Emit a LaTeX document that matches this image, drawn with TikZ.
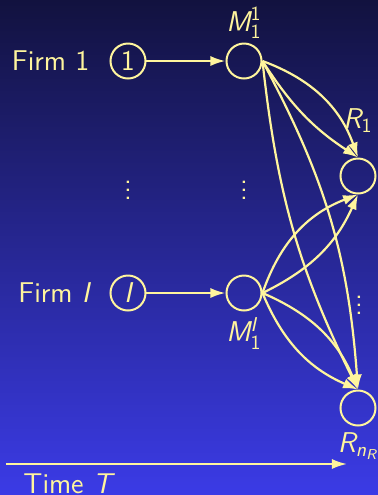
\documentclass[tikz,border=0pt]{standalone}
\usepackage{xcolor}
\usepackage{tikz}
\usetikzlibrary{arrows.meta,positioning}
\DeclareMathAlphabet{\mathsfit}{TU}{lmss}{m}{sl}
\DeclareMathAlphabet{\mathsfup}{TU}{lmss}{m}{n}
\definecolor{bgtop}{HTML}{12123F}
\definecolor{bgbottom}{HTML}{3B3BE6}
\definecolor{chalk}{HTML}{FFF59D}

\begin{document}
\begin{tikzpicture}[
  x=0.5pt, y=-0.5pt, color=chalk,
  font=\sffamily\fontsize{14.3pt}{17pt}\selectfont,
  stage/.style={draw, circle, line width=1pt, minimum size=17.5pt, inner sep=0pt},
  link/.style={-{Latex[length=7.5pt,width=5pt]}, line width=1.1pt},
  timeline/.style={-{Latex[length=7.5pt,width=5pt]}, line width=1pt}]
\useasboundingbox (0,0) rectangle (378,495);
\shade[top color=bgtop, bottom color=bgbottom] (0,0) rectangle (378,495);
% firms and their markets
\node[stage] (c1) at (128,61) {1};
\node[stage] (m1) at (244,61) {};
\node[stage] (cI) at (128,293) {$\mathsfit{I}$};
\node[stage] (mI) at (244,293) {};
\node[stage] (r1) at (358,176) {};
\node[stage] (rn) at (358,408) {};
\node[left=6.5pt of c1] (firm1) {Firm 1};
\node[left=6.5pt of cI] (firmI) {Firm $\mathsfit{I}$};
\node[above=-1.5pt of m1] (m1tag) {$\mathsfit{M}_{\mathsfup{1}}^{\mathsfup{1}}$};
\node[below=-0.5pt of mI] (mItag) {$\mathsfit{M}_{\mathsfup{1}}^{\mathsfit{I}}$};
\node[above=9pt of r1] (r1tag) {$\mathsfit{R}_{\mathsfup{1}}$};
\node[below=-0.5pt of rn] (rntag) {$\mathsfit{R}_{\mathsfit{n}_{\mathsfit{R}}}$};
\node (dotsfirm) at (128,184) {$\vdots$};
\node (dotsm) at (244,184) {$\vdots$};
\node (dotsr) at (359,299) {$\vdots$};
\draw[link] (c1) -- (m1);
\draw[link] (cI) -- (mI);
% routes to the retailers
\draw[link] (m1.east) to[bend left=25] (r1.north);
\draw[link] (m1.east) to[bend right=12] (r1.north);
\draw[link] (m1.east) to[bend left=12] (rn.north);
\draw[link] (m1.east) to[bend right=10] (rn.north);
\draw[link] (mI.east) to[bend left=25] (r1.south);
\draw[link] (mI.east) to[bend right=20] (r1.south);
\draw[link] (mI.east) to[bend left=22] (rn.north);
\draw[link] (mI.east) to[bend right=22] (rn.north);
% time axis
\coordinate (tstart) at (6,464);
\coordinate (tend) at (347,464);
\draw[timeline] (tstart) -- (tend);
\node[anchor=base west, inner sep=0pt] (timetag) at (23,493) {Time $\mathsfit{T}$};
\end{tikzpicture}
\end{document}
